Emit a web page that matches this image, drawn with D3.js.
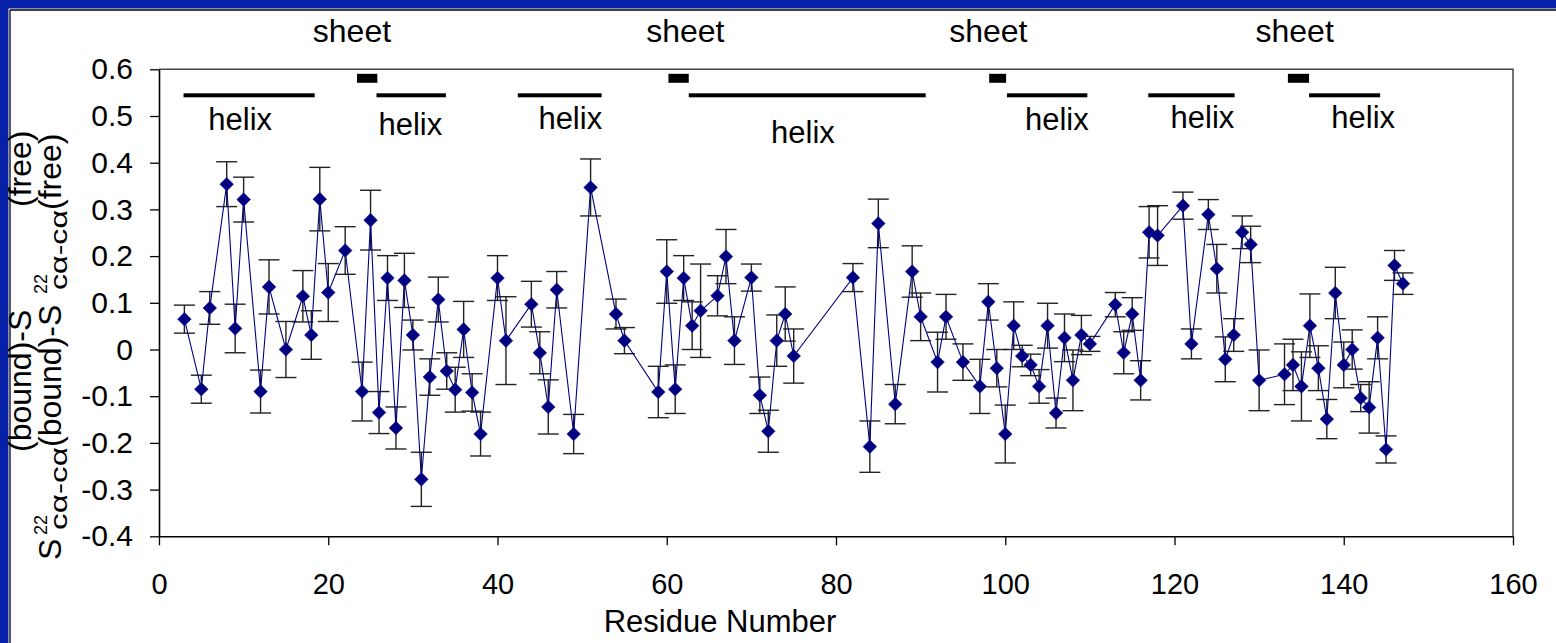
<!DOCTYPE html>
<html><head><meta charset="utf-8">
<script src="https://cdn.jsdelivr.net/npm/d3@7"></script>
<style>body{margin:0;background:#fff;overflow:hidden}text{font-family:"Liberation Sans",Arial,sans-serif}</style>
</head><body><svg id="c" width="1556" height="643"></svg>
<script>
// ---- data ----
const residues = [3,5,6,8,9,10,12,13,15,17,18,19,20,22,24,25,26,27,28,29,30,31,32,33,34,35,36,37,38,
  40,41,44,45,46,47,49,51,54,55,59,60,61,62,63,64,66,67,68,70,71,72,73,74,75,
  82,84,85,87,89,90,92,93,95,97,98,99,100,101,102,103,104,105,106,107,108,109,110,
  113,114,115,116,117,118,121,122,124,125,126,127,128,129,130,
  133,134,135,136,137,138,139,140,141,142,143,144,145,146,147];
const deltaS2 = [0.065,-0.085,0.089,0.354,0.045,0.321,-0.090,0.134,0.000,0.114,0.031,0.322,0.122,0.212,-0.090,0.277,-0.135,0.153,-0.168,0.148,0.031,-0.278,-0.059,0.107,-0.046,-0.086,0.043,-0.092,-0.181,
  0.153,0.019,0.097,-0.007,-0.123,0.128,-0.181,0.347,0.076,0.019,-0.091,0.167,-0.085,0.153,0.051,0.083,0.115,0.199,0.019,0.154,-0.098,-0.175,0.019,0.076,-0.014,
  0.154,-0.208,0.270,-0.117,0.167,0.070,-0.027,0.070,-0.027,-0.079,0.102,-0.040,-0.181,0.051,-0.014,-0.033,-0.079,0.051,-0.136,0.025,-0.066,0.031,0.012,
  0.096,-0.007,0.076,-0.066,0.251,0.244,0.308,0.012,0.289,0.173,-0.021,0.031,0.251,0.225,-0.066,
  -0.053,-0.033,-0.079,0.051,-0.040,-0.149,0.121,-0.033,0.000,-0.104,-0.124,0.025,-0.214,0.180,0.141];
const errs = [0.030,0.030,0.035,0.048,0.052,0.048,0.046,0.058,0.060,0.055,0.052,0.068,0.062,0.051,0.063,0.064,0.045,0.048,0.045,0.058,0.032,0.058,0.039,0.048,0.039,0.048,0.060,0.040,0.047,
  0.048,0.094,0.049,0.045,0.058,0.039,0.042,0.061,0.032,0.028,0.055,0.068,0.052,0.048,0.051,0.100,0.043,0.058,0.051,0.029,0.039,0.045,0.055,0.058,0.058,
  0.030,0.055,0.052,0.042,0.055,0.051,0.064,0.048,0.039,0.058,0.039,0.040,0.062,0.051,0.023,0.023,0.036,0.048,0.032,0.051,0.065,0.042,0.016,
  0.026,0.045,0.035,0.042,0.055,0.064,0.029,0.032,0.032,0.052,0.048,0.035,0.035,0.039,0.065,
  0.065,0.055,0.074,0.068,0.048,0.042,0.055,0.049,0.042,0.029,0.055,0.045,0.029,0.032,0.023];

const xTicks = [0,20,40,60,80,100,120,140,160];
const yTicks = [-0.4,-0.3,-0.2,-0.1,0,0.1,0.2,0.3,0.4,0.5,0.6];

// secondary structure annotations (residue numbers)
const helixStart = [2.9,25.7,42.4,62.6,100.2,116.9,135.9];
const helixEnd   = [18.4,33.9,52.3,90.6,109.7,127.1,144.3];
const helixLabelX = [9.6,29.7,48.6,76.1,106.1,123.3,142.3];
const helixLabelV = [0.47,0.459,0.472,0.442,0.47,0.474,0.474];
const sheetStart = [23.4,60.2,98.1,133.4];
const sheetEnd   = [25.8,62.6,100.1,135.9];
const sheetLabelX = [22.8,62.2,98.0,134.2];
const helixText = "helix", sheetText = "sheet";
const xTitle = "Residue Number";

// ---- drawing ----
const svg = d3.select("#c");
const x = d3.scaleLinear().domain([0,160]).range([159,1513]);
const y = d3.scaleLinear().domain([-0.4,0.6]).range([536.3,69.3]);

// outer frame
svg.append("rect").attr("x",0).attr("y",0).attr("width",1556).attr("height",643).attr("fill","#fff");
svg.append("rect").attr("x",0).attr("y",0).attr("width",1556).attr("height",8.5).attr("fill","#0620a8");
svg.append("rect").attr("x",0).attr("y",0).attr("width",8.5).attr("height",643).attr("fill","#0620a8");
svg.append("line").attr("x1",10).attr("x2",10).attr("y1",10).attr("y2",643).attr("stroke","#000").attr("stroke-width",1.3);
svg.append("line").attr("x1",10).attr("x2",1556).attr("y1",10).attr("y2",10).attr("stroke","#000").attr("stroke-width",1.3);

// plot frame top/right
svg.append("path").attr("d",`M${x(0)},${y(0.6)}H${x(160)}V${y(-0.4)}`).attr("fill","none").attr("stroke","#444").attr("stroke-width",1.5);

const fmt = d => d===0 ? "0" : d.toFixed(1);
const gy = svg.append("g").attr("transform",`translate(${x(0)},0)`)
  .call(d3.axisLeft(y).tickValues(yTicks).tickFormat(fmt).tickSize(9).tickSizeOuter(0).tickPadding(17));
const gx = svg.append("g").attr("transform",`translate(0,${y(-0.4)})`)
  .call(d3.axisBottom(x).tickValues(xTicks).tickFormat(d3.format("d")).tickSize(9).tickSizeOuter(0).tickPadding(28));
[gy,gx].forEach(g=>{
  g.selectAll("path.domain").attr("stroke","#000").attr("stroke-width",1.6);
  g.selectAll(".tick line").attr("stroke","#000").attr("stroke-width",1.3);
  g.selectAll("text").attr("fill","#000").style("font-family","'Liberation Sans',Arial,sans-serif");
});
gy.selectAll("text").style("font-size","30px");
gx.selectAll("text").style("font-size","29px");

svg.append("text").attr("x",720).attr("y",632).attr("text-anchor","middle").style("font-size","31px").text(xTitle);

// annotations
const ann = svg.append("g");
helixStart.forEach((s,i)=>{
  ann.append("rect").attr("x",x(s)).attr("width",x(helixEnd[i])-x(s)).attr("y",y(0.6)+24).attr("height",4).attr("fill","#000");
  ann.append("text").attr("x",x(helixLabelX[i])).attr("y",y(helixLabelV[i])).attr("text-anchor","middle").style("font-size","31px").text(helixText);
});
sheetStart.forEach((s,i)=>{
  ann.append("rect").attr("x",x(s)).attr("width",x(sheetEnd[i])-x(s)).attr("y",y(0.6)+4.5).attr("height",9).attr("fill","#000");
  ann.append("text").attr("x",x(sheetLabelX[i])).attr("y",42).attr("text-anchor","middle").style("font-size","32px").text(sheetText);
});

// data
const pts = residues.map((r,i)=>({r, v:deltaS2[i], e:errs[i]}));
const eb = svg.append("g").attr("stroke","#222").attr("stroke-width",1.4);
pts.forEach(p=>{
  const cx = x(p.r);
  eb.append("line").attr("x1",cx).attr("x2",cx).attr("y1",y(p.v+p.e)).attr("y2",y(p.v-p.e));
  eb.append("line").attr("x1",cx-10.5).attr("x2",cx+10.5).attr("y1",y(p.v+p.e)).attr("y2",y(p.v+p.e));
  eb.append("line").attr("x1",cx-10.5).attr("x2",cx+10.5).attr("y1",y(p.v-p.e)).attr("y2",y(p.v-p.e));
});
svg.append("path").datum(pts).attr("fill","none").attr("stroke","#000080").attr("stroke-width",1.1)
  .attr("d",d3.line().x(d=>x(d.r)).y(d=>y(d.v)));
svg.append("g").selectAll("path").data(pts).join("path")
  .attr("transform",d=>`translate(${x(d.r)},${y(d.v)})`)
  .attr("d","M0,-6.8L6.8,0L0,6.8L-6.8,0Z").attr("fill","#000080").attr("stroke","#101090").attr("stroke-width",0.6);

// y-axis title (two overlapping renderings as in the original)
const yt = svg.append("g");
function rot(txt, bx, sy, fs, len){
  const t = yt.append("text").attr("transform",`translate(${bx},${sy}) rotate(-90)`).style("font-size",fs+"px").text(txt);
  if(len) t.attr("textLength",len).attr("lengthAdjust","spacingAndGlyphs");
}
// copy 1
rot("(bound)-S",31,452,32);
rot("(free)",31,207,32);
// copy 2
rot("S",61,560,32);
rot("22",47,535,18);
rot("c\u03b1-c\u03b1",67,530,24,83);
rot("(bound)-S",61,447,32);
rot("22",47,294,18);
rot("c\u03b1-c\u03b1",67,290,24,80);
rot("(free)",61,210,32);
</script></body></html>
